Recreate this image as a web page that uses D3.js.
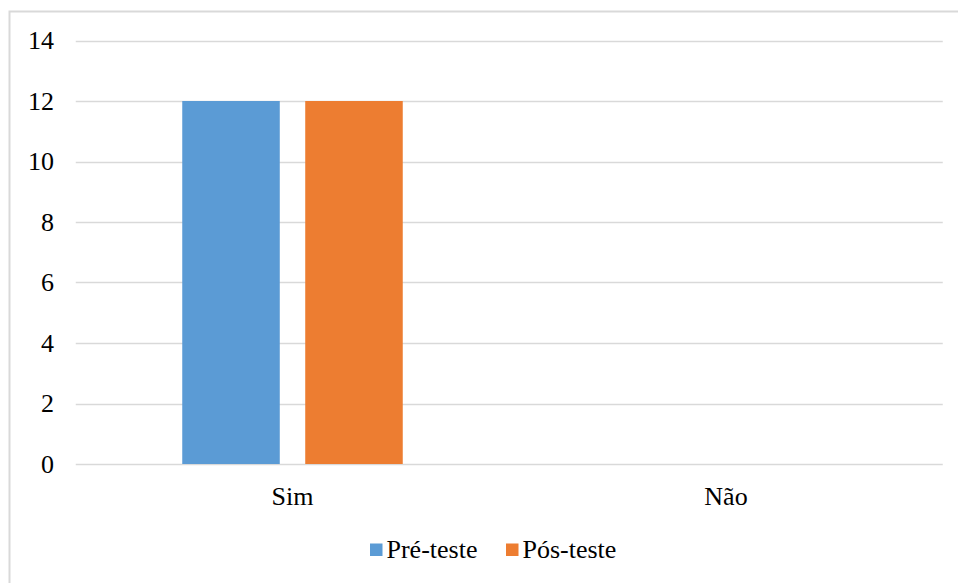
<!DOCTYPE html>
<html><head><meta charset="utf-8">
<script src="https://cdn.jsdelivr.net/npm/d3@7"></script>
</head><body style="margin:0;background:#fff">
<svg id="c" width="958" height="583" font-family="Liberation Serif" style="display:block"></svg>
<script>
const categories = ["Sim", "Não"];
const seriesNames = ["Pré-teste", "Pós-teste"];
const preTeste = [12, 0];
const posTeste = [12, 0];
const yTicks = [0, 2, 4, 6, 8, 10, 12, 14];
const colors = ["#5B9BD5", "#ED7D31"];
const FONT = "Liberation Serif";
const FS = 26;

const svg = d3.select("#c");
svg.append("rect").attr("x", 9.5).attr("y", 11.5).attr("width", 960).attr("height", 600)
  .attr("fill", "#fff").attr("stroke", "#d9d9d9").attr("stroke-width", 2);

const pLeft = 75.75, pRight = 942.75, pTop = 40.5, pBottom = 464;
const x = d3.scaleBand().domain(categories).range([pLeft, pRight]);
const x1 = d3.scaleBand().domain(seriesNames).range([0, x.bandwidth()]).paddingInner(0.207).paddingOuter(0.866);
const y = d3.scaleLinear().domain([0, 14]).range([pBottom, pTop]);

const grid = svg.append("g");
grid.selectAll("line").data(yTicks).join("line")
  .attr("x1", pLeft).attr("x2", pRight)
  .attr("y1", d => Math.round(y(d)) + 0.5).attr("y2", d => Math.round(y(d)) + 0.5)
  .attr("stroke", "#d9d9d9").attr("stroke-width", 1.3);

const yAxis = d3.axisLeft(y).tickValues(yTicks).tickSize(0).tickPadding(0);
const ya = svg.append("g").attr("transform", `translate(54,0)`).call(yAxis);
ya.select(".domain").remove();
ya.attr("font-family", FONT).attr("font-size", FS);
ya.selectAll("text").attr("font-size", FS).attr("fill", "#000").attr("font-family", FONT);

const data = categories.map((c, i) => ({cat: c, vals: [preTeste[i], posTeste[i]]}));
const groups = svg.append("g").selectAll("g").data(data).join("g")
  .attr("transform", d => `translate(${x(d.cat)},0)`);
groups.selectAll("rect").data(d => d.vals.map((v, j) => ({name: seriesNames[j], v, j}))).join("rect")
  .attr("x", d => x1(d.name)).attr("width", x1.bandwidth())
  .attr("y", d => y(d.v)).attr("height", d => y(0) - y(d.v))
  .attr("fill", d => colors[d.j]);

const xAxis = d3.axisBottom(x).tickSize(0).tickPadding(0);
const xa = svg.append("g").attr("transform", `translate(0,${pBottom})`).call(xAxis);
xa.select(".domain").remove();
xa.attr("font-family", FONT).attr("font-size", FS);
xa.selectAll("text").attr("dy", null).attr("y", 41).attr("font-size", FS).attr("fill", "#000").attr("font-family", FONT);

const legend = svg.append("g");
const legX = [370, 506];
seriesNames.forEach((n, i) => {
  legend.append("rect").attr("x", legX[i]).attr("y", 543.5).attr("width", 12.5).attr("height", 12.5).attr("fill", colors[i]);
  legend.append("text").attr("x", legX[i] + 16.5).attr("y", 557.5).attr("font-size", FS).attr("fill", "#000").attr("font-family", FONT).text(n);
});
</script>
</body></html>
